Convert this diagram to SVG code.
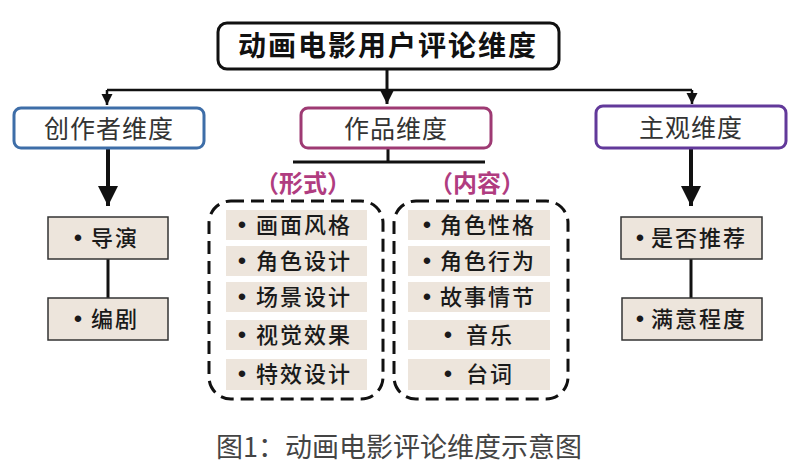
<svg xmlns="http://www.w3.org/2000/svg" width="800" height="472" viewBox="0 0 800 472">
<defs>
<style>
.cjk{font-family:"Noto Sans CJK SC","Noto Sans",sans-serif;}
.title{font-size:28px;font-weight:bold;fill:#111;letter-spacing:2px;}
.dim{font-size:25px;fill:#333;letter-spacing:1px;}
.item{font-size:22px;fill:#1a1a1a;letter-spacing:2px;font-weight:500;}
.b{font-family:"Liberation Sans",sans-serif;font-size:24px;fill:#1a1a1a;text-anchor:middle;}
.sub{font-size:24px;fill:#b03c80;font-weight:bold;}
.cap{font-size:27px;fill:#444;}
.itembox{fill:#ede5dc;}
.itembox2{fill:#ede5dc;stroke:#333;stroke-width:1.5;}
.line{stroke:#111;fill:none;}
.dash{fill:none;stroke:#111;stroke-width:3;stroke-dasharray:13 7;}
</style>
<marker id="ah" viewBox="0 0 10 10" refX="10" refY="5" markerWidth="5" markerHeight="5" markerUnits="strokeWidth" orient="auto">
<path d="M0,0 L10,5 L0,10 z" fill="#111"/>
</marker>
<marker id="ahs" viewBox="0 0 10 10" refX="10" refY="5" markerWidth="4.5" markerHeight="4.5" markerUnits="strokeWidth" orient="auto">
<path d="M0,0 L10,5 L0,10 z" fill="#111"/>
</marker>
</defs>
<rect width="800" height="472" fill="#fff"/>

<g id="connectors">
<path class="line" stroke-width="3" d="M387,70 V104" marker-end="url(#ahs)"/>
<path class="line" stroke-width="2.5" d="M107,90 H692"/>
<path class="line" stroke-width="2.5" d="M107,90 V105" marker-end="url(#ahs)"/>
<path class="line" stroke-width="2.5" d="M692,90 V104" marker-end="url(#ahs)"/>
<path class="line" stroke-width="4" d="M108,149 V206" marker-end="url(#ah)"/>
<path class="line" stroke-width="4" d="M691,149 V206" marker-end="url(#ah)"/>
<path class="line" stroke-width="3" d="M108,259 V298"/>
<path class="line" stroke-width="3" d="M691,259 V298"/>
<path class="line" stroke-width="3" d="M388,148 V162 M293,162 H485"/>
</g>

<g id="root">
<rect x="218" y="23" width="341" height="46" rx="9" fill="#fff" stroke="#111" stroke-width="3"/>
<text class="cjk title" x="388" y="56" text-anchor="middle">动画电影用户评论维度</text>
</g>

<g id="creator">
<rect x="14" y="108" width="190" height="40" rx="7" fill="#fff" stroke="#3e6ea8" stroke-width="3"/>
<text class="cjk dim" x="109" y="138" text-anchor="middle">创作者维度</text>
</g>
<g id="work">
<rect x="301" y="108" width="190" height="40" rx="7" fill="#fff" stroke="#9e3a73" stroke-width="3"/>
<text class="cjk dim" x="396" y="138" text-anchor="middle">作品维度</text>
</g>
<g id="subjective">
<rect x="596" y="106" width="190" height="42" rx="7" fill="#fff" stroke="#62399a" stroke-width="3"/>
<text class="cjk dim" x="691" y="137" text-anchor="middle">主观维度</text>
</g>

<g id="director">
<rect class="itembox2" x="48" y="217" width="120" height="42"/>
<text class="b" x="78" y="246">•</text>
<text class="cjk item" x="91" y="246">导演</text>
</g>
<g id="writer">
<rect class="itembox2" x="48" y="298" width="120" height="42"/>
<text class="b" x="78" y="327">•</text>
<text class="cjk item" x="91" y="327">编剧</text>
</g>
<g id="recommend">
<rect class="itembox2" x="621" y="217" width="141" height="42"/>
<text class="b" x="640" y="246">•</text>
<text class="cjk item" x="651" y="246">是否推荐</text>
</g>
<g id="satisfaction">
<rect class="itembox2" x="622" y="298" width="140" height="42"/>
<text class="b" x="640" y="327">•</text>
<text class="cjk item" x="651" y="327">满意程度</text>
</g>

<g id="form">
<text class="cjk sub" x="303" y="192" text-anchor="middle">（形式）</text>
<rect class="dash" x="209" y="201" width="174" height="198" rx="22"/>
<rect class="itembox" x="226" y="210" width="141" height="30"/>
<text class="b" x="242" y="233">•</text>
<text class="cjk item" x="256" y="233">画面风格</text>
<rect class="itembox" x="226" y="246" width="141" height="30"/>
<text class="b" x="242" y="269">•</text>
<text class="cjk item" x="256" y="269">角色设计</text>
<rect class="itembox" x="226" y="282" width="141" height="30"/>
<text class="b" x="242" y="305">•</text>
<text class="cjk item" x="256" y="305">场景设计</text>
<rect class="itembox" x="226" y="320" width="141" height="30"/>
<text class="b" x="242" y="343">•</text>
<text class="cjk item" x="256" y="343">视觉效果</text>
<rect class="itembox" x="226" y="359" width="141" height="31"/>
<text class="b" x="242" y="382">•</text>
<text class="cjk item" x="256" y="382">特效设计</text>
</g>

<g id="content">
<text class="cjk sub" x="477" y="192" text-anchor="middle">（内容）</text>
<rect class="dash" x="394" y="201" width="174" height="198" rx="22"/>
<rect class="itembox" x="408" y="210" width="142" height="30"/>
<text class="b" x="427" y="233">•</text>
<text class="cjk item" x="440" y="233">角色性格</text>
<rect class="itembox" x="408" y="246" width="142" height="30"/>
<text class="b" x="427" y="269">•</text>
<text class="cjk item" x="440" y="269">角色行为</text>
<rect class="itembox" x="408" y="282" width="142" height="30"/>
<text class="b" x="427" y="305">•</text>
<text class="cjk item" x="440" y="305">故事情节</text>
<rect class="itembox" x="408" y="320" width="142" height="30"/>
<text class="b" x="448" y="343">•</text>
<text class="cjk item" x="466" y="343">音乐</text>
<rect class="itembox" x="408" y="359" width="142" height="31"/>
<text class="b" x="448" y="382">•</text>
<text class="cjk item" x="466" y="382">台词</text>
</g>

<text class="cjk cap" x="399" y="457" text-anchor="middle">图1：动画电影评论维度示意图</text>
</svg>
